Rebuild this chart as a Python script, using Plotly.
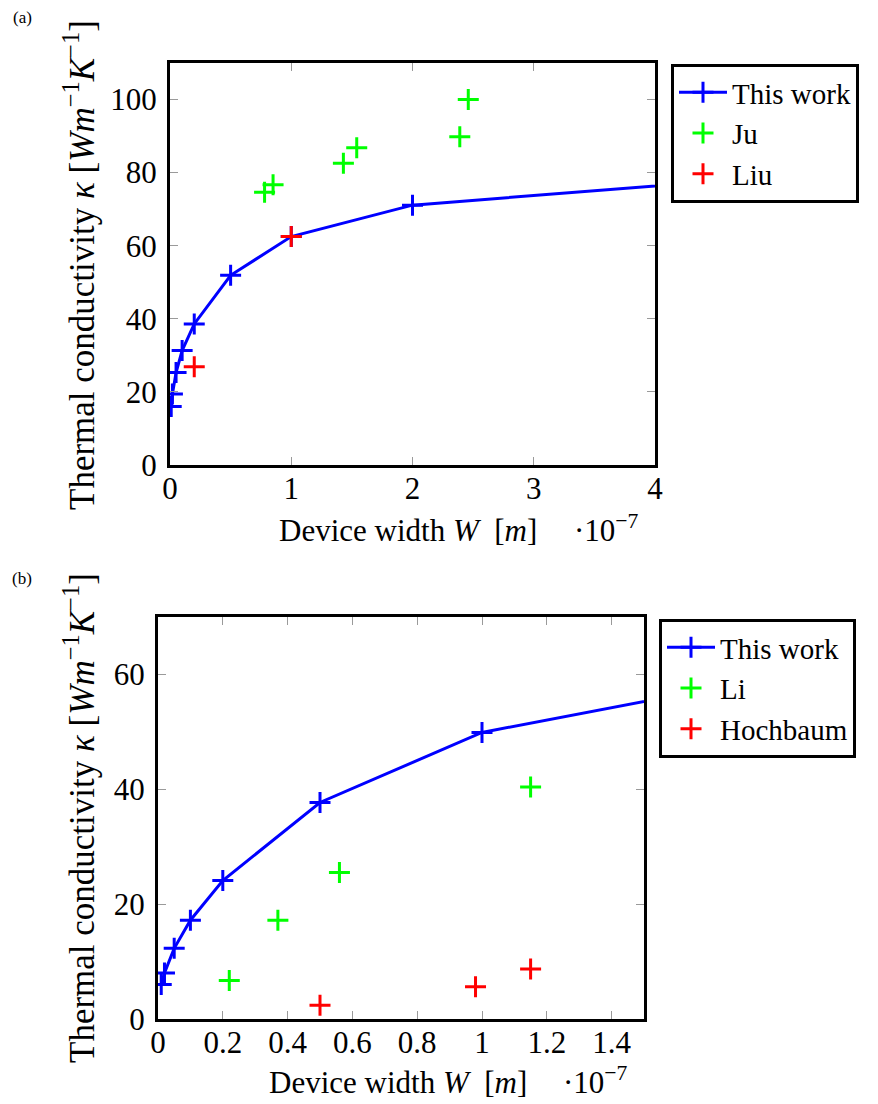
import plotly.graph_objects as go

# ---- data (x in units of 1e-7 m, kappa in W m^-1 K^-1) ----
a_work_x = [0.01, 0.02, 0.05, 0.1, 0.2, 0.5, 1, 2, 5]
a_work_y = [16.0, 19.4, 25.3, 31.3, 38.6, 51.9, 62.5, 71.1, 79.0]
a_ju_x = [0.78, 0.85, 1.43, 1.54, 2.39, 2.46]
a_ju_y = [74.6, 76.7, 82.6, 86.8, 89.8, 100.0]
a_liu_x = [0.2, 1.0]
a_liu_y = [26.9, 62.5]

b_work_x = [0.01, 0.02, 0.05, 0.1, 0.2, 0.5, 1, 2]
b_work_y = [6.0, 8.0, 12.3, 17.2, 24.1, 37.7, 49.9, 60.7]
b_li_x = [0.22, 0.37, 0.56, 1.15]
b_li_y = [6.7, 17.2, 25.5, 40.4]
b_hoch_x = [0.5, 0.98, 1.15]
b_hoch_y = [2.4, 5.6, 8.7]

a_xticks = [0, 1, 2, 3, 4]
a_yticks = [0, 20, 40, 60, 80, 100]
b_xticks = [0, 0.2, 0.4, 0.6, 0.8, 1.0, 1.2, 1.4]
b_xticklabels = ["0", "0.2", "0.4", "0.6", "0.8", "1", "1.2", "1.4"]
b_yticks = [0, 20, 40, 60]

OFF = 8  # default page body margin
W, H = 878 - OFF, 1104 - OFF
FONT = "Liberation Serif"
FS = 31
BLUE, GREEN, RED = "#0000ff", "#00ff00", "#ff0000"

def px(x):
    return (x - OFF) / W

def py(y):
    return 1 - (y - OFF) / H

def mk(color):
    return dict(symbol="cross-thin", size=15, line=dict(width=3, color=color), color=color)

fig = go.Figure()
fig.add_trace(go.Scatter(x=a_work_x, y=a_work_y, mode="lines+markers", name="This work",
                         line=dict(color=BLUE, width=3), marker=mk(BLUE),
                         xaxis="x", yaxis="y", legend="legend"))
fig.add_trace(go.Scatter(x=a_ju_x, y=a_ju_y, mode="markers", name="Ju", marker=mk(GREEN),
                         xaxis="x", yaxis="y", legend="legend"))
fig.add_trace(go.Scatter(x=a_liu_x, y=a_liu_y, mode="markers", name="Liu", marker=mk(RED),
                         xaxis="x", yaxis="y", legend="legend"))

fig.add_trace(go.Scatter(x=b_work_x, y=b_work_y, mode="lines+markers", name="This work",
                         line=dict(color=BLUE, width=3), marker=mk(BLUE),
                         xaxis="x2", yaxis="y2", legend="legend2"))
fig.add_trace(go.Scatter(x=b_li_x, y=b_li_y, mode="markers", name="Li", marker=mk(GREEN),
                         xaxis="x2", yaxis="y2", legend="legend2"))
fig.add_trace(go.Scatter(x=b_hoch_x, y=b_hoch_y, mode="markers", name="Hochbaum", marker=mk(RED),
                         xaxis="x2", yaxis="y2", legend="legend2"))

axis_common = dict(showline=True, linewidth=3, linecolor="black", mirror="ticks",
                   ticks="inside", ticklen=8, tickwidth=1, tickcolor="#9a9a9a",
                   showgrid=False, zeroline=False,
                   tickfont=dict(family=FONT, size=FS, color="black"))
xax = dict(axis_common, ticklabelstandoff=-6)
yax = dict(axis_common, ticklabelstandoff=4)

leg_common = dict(xanchor="left", yanchor="top", bordercolor="black", borderwidth=3,
                  bgcolor="white", font=dict(family=FONT, size=29), tracegroupgap=0,
                  itemwidth=48)

fig.update_layout(
    width=W, height=H,
    margin=dict(l=0, r=0, t=0, b=0, autoexpand=False),
    paper_bgcolor="white", plot_bgcolor="white",
    font=dict(family=FONT, size=FS, color="black"),
    xaxis=dict(domain=[px(170), px(655)], range=[0, 4], anchor="y",
               tickvals=a_xticks, **xax),
    yaxis=dict(domain=[py(465), py(63)], range=[0, 110], anchor="x",
               tickvals=a_yticks, **yax),
    xaxis2=dict(domain=[px(158), px(644)], range=[0, 1.5], anchor="y2",
                tickvals=b_xticks, ticktext=b_xticklabels, **xax),
    yaxis2=dict(domain=[py(1019), py(617)], range=[0, 70], anchor="x2",
                tickvals=b_yticks, **yax),
    legend=dict(x=px(671), y=py(64), **leg_common),
    legend2=dict(x=px(659), y=py(619), **leg_common),
    showlegend=True,
)

ytitle = "Thermal conductivity <i>κ</i> [<i>Wm</i><sup>−1</sup><i>K</i><sup>−1</sup>]"
xtitle = "Device width <i>W</i>  [<i>m</i>]"
ann = [
    dict(x=px(22), y=py(18), text="(a)", font=dict(size=17)),
    dict(x=px(22), y=py(578), text="(b)", font=dict(size=17)),
    dict(x=px(79), y=py(265), text=ytitle, textangle=-90, font=dict(size=35)),
    dict(x=px(79), y=py(818), text=ytitle, textangle=-90, font=dict(size=35)),
    dict(x=px(408), y=py(530), text=xtitle),
    dict(x=px(398), y=py(1082), text=xtitle),
    dict(x=px(606), y=py(528), text="·10<sup>−7</sup>"),
    dict(x=px(595), y=py(1080), text="·10<sup>−7</sup>"),
]
for a in ann:
    a.update(xref="paper", yref="paper", showarrow=False, xanchor="center", yanchor="middle")
    fig.add_annotation(**a)

fig.write_html("out.html")
